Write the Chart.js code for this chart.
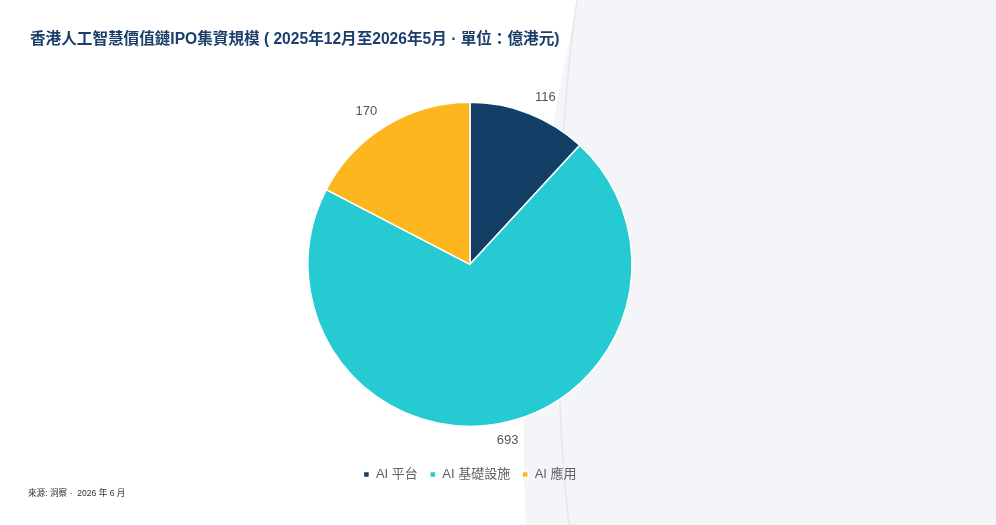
<!DOCTYPE html>
<html>
<head>
<meta charset="utf-8">
<script src="https://cdn.jsdelivr.net/npm/chart.js@4.4.1/dist/chart.umd.min.js"></script>
<style>
  html, body { margin: 0; padding: 0; background: #fff; }
  #wrap { position: relative; width: 996px; height: 525px; }
  #source {
    position: absolute; left: 28px; top: 486px;
    font: 8.6px "Liberation Sans", "Noto Sans CJK TC", sans-serif; color: #333;
  }
</style>
</head>
<body>
<div id="wrap">
  <canvas id="pieChart" width="996" height="525"></canvas>
  <div id="source">來源: 洞察 ·&nbsp; 2026 年 6 月</div>
</div>
<script>
var categories = ['AI 平台', 'AI 基礎設施', 'AI 應用']
var values = [116, 693, 170]
var colors = ['#133f66', '#25cad3', '#fdb61d']

var FONT = '"Liberation Sans", "Noto Sans CJK TC", sans-serif'

// light grey swoosh on the right side
var backdrop = {
    id: 'backdrop',
    beforeDraw: function(chart) {
        var ctx = chart.ctx
        ctx.save()
        ctx.fillStyle = '#ffffff'
        ctx.fillRect(0, 0, chart.width, chart.height)
        ctx.beginPath()
        ctx.moveTo(578, 0)
        ctx.bezierCurveTo(545, 150, 515, 330, 526, 525)
        ctx.lineTo(996, 525)
        ctx.lineTo(996, 0)
        ctx.closePath()
        ctx.fillStyle = '#f4f5f8'
        ctx.fill()
        ctx.beginPath()
        ctx.moveTo(577, 0)
        ctx.bezierCurveTo(555, 150, 552, 380, 569, 525)
        ctx.strokeStyle = '#e4e7ed'
        ctx.lineWidth = 1.5
        ctx.stroke()
        ctx.restore()
    }
}

// value labels outside each slice
var outLabels = {
    id: 'outLabels',
    afterDatasetsDraw: function(chart) {
        var ctx = chart.ctx
        var meta = chart.getDatasetMeta(0)
        ctx.save()
        ctx.font = '13px ' + FONT
        ctx.fillStyle = '#555'
        ctx.textBaseline = 'middle'
        meta.data.forEach(function(arc, i) {
            var mid = (arc.startAngle + arc.endAngle) / 2
            var r = arc.outerRadius + 17
            var cx = Math.cos(mid)
            ctx.textAlign = cx >= 0 ? 'left' : 'right'
            var shift = cx >= 0 && Math.sin(mid) > 0.9 ? -4 : 0
            ctx.fillText(values[i], arc.x + cx * r + shift, arc.y + Math.sin(mid) * r)
        })
        ctx.restore()
    }
}

var pieCanvas = document.getElementById('pieChart').getContext('2d')
var pieChart = new Chart(pieCanvas, {
    type: 'pie',
    data: {
        labels: categories,
        datasets: [{
            data: values,
            backgroundColor: colors,
            borderColor: '#ffffff',
            borderWidth: 1.5
        }]
    },
    options: {
        responsive: false,
        animation: false,
        radius: 162,
        layout: {
            padding: { top: 30, left: 30, right: 86, bottom: 34 }
        },
        plugins: {
            title: {
                display: true,
                text: '香港人工智慧價值鏈IPO集資規模 ( 2025年12月至2026年5月 · 單位：億港元)',
                align: 'start',
                color: '#1b3f6b',
                font: { family: FONT, size: 15.6, weight: 'bold' },
                padding: { top: 0, bottom: 24 }
            },
            legend: {
                position: 'bottom',
                labels: {
                    boxWidth: 6,
                    boxHeight: 6,
                    color: '#5f5f5f',
                    font: { family: FONT, size: 13 },
                    padding: 12
                }
            },
            tooltip: { enabled: false }
        }
    },
    plugins: [backdrop, outLabels]
})
</script>
</body>
</html>
